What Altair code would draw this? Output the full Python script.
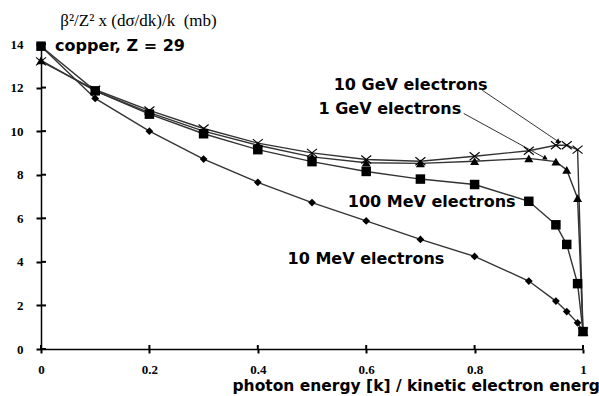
import altair as alt
import pandas as pd

# photon energy fraction k / E
k = [0, 0.1, 0.2, 0.3, 0.4, 0.5, 0.6, 0.7, 0.8, 0.9, 0.95, 0.97, 0.99, 1.0]

# beta^2/Z^2 * k dsigma/dk (mb) for copper, one list per electron energy
mev10 = [13.9, 11.5, 10.0, 8.72, 7.65, 6.72, 5.88, 5.03, 4.25, 3.12, 2.2, 1.72, 1.2, 0.82]
mev100 = [13.9, 11.85, 10.78, 9.88, 9.15, 8.6, 8.15, 7.8, 7.55, 6.78, 5.7, 4.8, 3.0, 0.8]
gev1 = [13.25, 11.85, 10.85, 10.0, 9.35, 8.82, 8.55, 8.52, 8.62, 8.75, 8.6, 8.22, 6.92, 0.8]
gev10 = [13.2, 11.9, 10.95, 10.12, 9.45, 9.0, 8.7, 8.62, 8.85, 9.1, 9.35, 9.35, 9.15, 0.8]

series_names = ["10 MeV", "100 MeV", "1 GeV", "10 GeV"]
series_values = [mev10, mev100, gev1, gev10]

x_ticks = [0, 0.2, 0.4, 0.6, 0.8, 1.0]
y_ticks = [0, 2, 4, 6, 8, 10, 12, 14]

# curve labels (anchor in data units)
label_text = ["copper, Z = 29", "10 GeV electrons", "1 GeV electrons",
              "100 MeV electrons", "10 MeV electrons"]
label_x = [0.026, 0.54, 0.512, 0.566, 0.455]
label_y = [13.9, 12.1, 11.0, 6.73, 4.14]

# leader lines from the GeV labels to their curves
leader_x = [0.814, 0.78]
leader_y = [11.88, 10.81]
leader_x2 = [0.955, 0.931]
leader_y2 = [9.51, 8.75]
leader_angle = [34, 29]

rows = []
for name, vals in zip(series_names, series_values):
    for xv, yv in zip(k, vals):
        rows.append({"series": name, "k": xv, "v": yv})
df = pd.DataFrame(rows)

labels = pd.DataFrame({"text": label_text, "x": label_x, "y": label_y})
leaders = pd.DataFrame({"x": leader_x, "y": leader_y, "x2": leader_x2,
                        "y2": leader_y2, "angle": leader_angle})
xt = pd.DataFrame({"t": x_ticks, "z": [0.0] * len(x_ticks)})
yt = pd.DataFrame({"t": y_ticks, "z": [0.0] * len(y_ticks)})

xscale = alt.Scale(domain=[0, 1], nice=False, zero=False)
yscale = alt.Scale(domain=[0, 14], nice=False)

x_axis = alt.Axis(
    values=x_ticks, format="~g", ticks=True, tickSize=4, tickWidth=2,
    tickColor="black", grid=False,
    domainColor="black", domainWidth=1.5,
    labelFont="Liberation Serif", labelFontWeight="bold", labelFontSize=13,
    labelColor="black", labelPadding=10, labelFlush=False,
    title="photon energy [k] / kinetic electron energ",
    titleFont="DejaVu Sans", titleFontWeight="bold", titleFontSize=15.5,
    titleColor="black", titleAnchor="start", titleAlign="left",
    titleBaseline="middle", titleX=191, titleY=36,
)
y_axis = alt.Axis(
    values=y_ticks, format="d", ticks=True, tickSize=5, tickWidth=2,
    tickColor="black", grid=False,
    domainColor="black", domainWidth=1.5,
    labelFont="Liberation Serif", labelFontWeight="bold", labelFontSize=13,
    labelColor="black", labelPadding=13, labelFlush=False,
    title="β²/Z² x (dσ/dk)/k\u00a0\u00a0(mb)", titleAngle=0,
    titleFont="Liberation Serif", titleFontWeight="normal", titleFontSize=17,
    titleColor="black", titleAlign="center", titleBaseline="middle",
    titleX=97, titleY=-24,
)

base = alt.Chart(df)

lines = base.mark_line(color="#333333", strokeWidth=1.4).encode(
    x=alt.X("k:Q", scale=xscale, axis=x_axis),
    y=alt.Y("v:Q", scale=yscale, axis=y_axis),
    detail="series:N",
    order="k:Q",
)

pt_x = alt.X("k:Q", scale=xscale)
pt_y = alt.Y("v:Q", scale=yscale)

diamonds = base.transform_filter(alt.datum.series == "10 MeV").mark_point(
    shape="diamond", filled=True, color="black", size=60, opacity=1
).encode(x=pt_x, y=pt_y)
squares = base.transform_filter(alt.datum.series == "100 MeV").mark_point(
    shape="square", filled=True, color="black", size=90, opacity=1
).encode(x=pt_x, y=pt_y)
triangles = base.transform_filter(alt.datum.series == "1 GeV").mark_point(
    shape="triangle-up", filled=True, color="black", size=80, opacity=1
).encode(x=pt_x, y=pt_y)
crosses = base.transform_filter(alt.datum.series == "10 GeV").mark_point(
    shape="M-1,-0.8L1,0.8M-1,0.8L1,-0.8", filled=False, color="black",
    strokeWidth=1.1, size=100, opacity=1
).encode(x=pt_x, y=pt_y)

# inner halves of the tick marks (the axes draw the outer halves)
y_tick_marks = alt.Chart(yt).mark_point(
    shape="M0,0L1,0", filled=False, stroke="black", strokeWidth=2, size=100,
    opacity=1, clip=False
).encode(y=alt.Y("t:Q", scale=yscale), x=alt.X("z:Q", scale=xscale))
x_tick_marks = alt.Chart(xt).mark_point(
    shape="M0,0L0,-1", filled=False, stroke="black", strokeWidth=2, size=64,
    opacity=1, clip=False
).encode(x=alt.X("t:Q", scale=xscale), y=alt.Y("z:Q", scale=yscale))

leader_lines = alt.Chart(leaders).mark_rule(color="#333333", strokeWidth=1).encode(
    x=alt.X("x:Q", scale=xscale), y=alt.Y("y:Q", scale=yscale),
    x2=alt.X2("x2:Q"), y2=alt.Y2("y2:Q"),
)
arrow_heads = alt.Chart(leaders).mark_point(
    shape="triangle-right", filled=True, color="black", size=30, opacity=1
).encode(
    x=alt.X("x2:Q", scale=xscale), y=alt.Y("y2:Q", scale=yscale),
    angle=alt.Angle("angle:Q", scale=None),
)

texts = alt.Chart(labels).mark_text(
    font="DejaVu Sans", fontWeight="bold", fontSize=16, color="black",
    align="left", baseline="middle",
).encode(x=alt.X("x:Q", scale=xscale), y=alt.Y("y:Q", scale=yscale), text="text:N")

chart = alt.layer(
    lines, leader_lines, arrow_heads, y_tick_marks, x_tick_marks,
    diamonds, squares, triangles, crosses, texts,
).properties(
    width=542, height=305,
    autosize=alt.AutoSizeParams(type="none"),
    padding={"left": 41, "top": 44, "right": 16, "bottom": 47},
    background="white",
).configure_view(stroke=None)

chart.save("out.html", embed_options={"renderer": "svg", "actions": False})
